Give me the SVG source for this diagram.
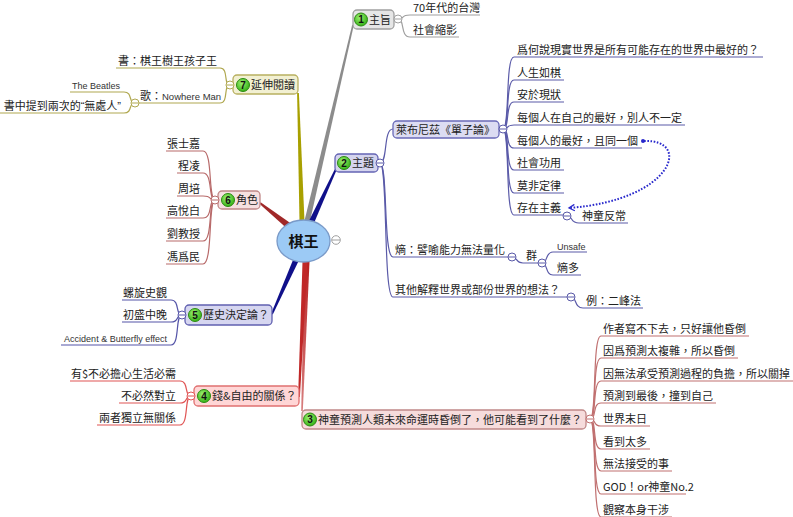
<svg xmlns="http://www.w3.org/2000/svg" width="793" height="517" viewBox="0 0 793 517">
<style>
.t{font-family:"Noto Sans CJK TC","Noto Sans CJK SC","Liberation Sans",sans-serif;font-size:11px;fill:#222}
.e{text-anchor:end}
.s{font-family:"Liberation Sans",sans-serif;font-size:9px;fill:#333}
.q{font-family:"Liberation Sans",sans-serif}
.num{font-family:"Liberation Sans",sans-serif;font-weight:bold;font-size:10px;text-anchor:middle;fill:#111}
.ic{fill:url(#g);stroke:#2d8a12;stroke-width:1}
.c{fill:none;stroke-width:1.2}
.gy{stroke:#a0a0a0}.bl{stroke:#5a5aa8}.r3{stroke:#c07070}.r4{stroke:#e05555}.b5{stroke:#5555a8}.r6{stroke:#b86a6a}.ol{stroke:#b0a850}
.col{fill:#fff;stroke-width:1}
.box{stroke-width:1.3}
</style>
<defs>
<radialGradient id="g" cx="0.4" cy="0.35" r="0.7"><stop offset="0" stop-color="#9cf070"/><stop offset="1" stop-color="#2fae12"/></radialGradient>
<linearGradient id="rg" x1="0" y1="0" x2="0" y2="1"><stop offset="0" stop-color="#b82020"/><stop offset="1" stop-color="#d88080"/></linearGradient>
<marker id="arr" viewBox="0 0 10 10" refX="8" refY="5" markerWidth="8" markerHeight="8" orient="auto" markerUnits="userSpaceOnUse"><path d="M1 1 L8 5 L1 9" fill="none" stroke="#2828cc" stroke-width="1.6"/></marker>
</defs>
<rect width="793" height="517" fill="#fff"/>
<g id="connectors">
<polygon points="309.7,222.6 353.8,25.2 352.2,24.8 304.3,221.4" fill="#8c8c8c"/>
<polygon points="304.5,221 298.9,93 297.1,93 299.5,221" fill="#a8a000"/>
<polygon points="313.5,224.2 336.8,169.4 335.2,168.6 308.5,221.8" fill="#10108a"/>
<polygon points="291,223.5 260.6,202.2 259.4,203.8 287,228.5" fill="#a02828"/>
<polygon points="298.6,261.1 272.8,314.4 271.2,313.6 293.4,258.9" fill="#10108a"/>
<polygon points="309.5,262 302.8,411 301.2,411 304.5,262" fill="url(#rg)"/>
<polygon points="307.5,262.1 299.9,397 298.1,397 302.5,261.9" fill="#c02828"/>
<path class="c gy" d="M398 19 C405 19,400 15,410 15 L480 15"/>
<path class="c gy" d="M398 19 C405 19,400 37,410 37 L459 37"/>
<path class="c bl" d="M380 163 C388 163,383 129,393 129"/>
<path class="c bl" d="M380 163 C388 163,383 257,393 257 L512 257"/>
<path class="c bl" d="M380 163 C388 163,383 297,393 297 L571 297"/>
<path class="c bl" d="M503 129 C510 129,505 57,514 57 L763 57"/>
<path class="c bl" d="M503 129 C510 129,505 80,514 80 L564 80"/>
<path class="c bl" d="M503 129 C510 129,505 102,514 102 L564 102"/>
<path class="c bl" d="M503 129 C510 129,505 125,514 125 L685 125"/>
<path class="c bl" d="M503 129 C510 129,505 148,514 148 L642 148"/>
<path class="c bl" d="M503 129 C510 129,505 170,514 170 L564 170"/>
<path class="c bl" d="M503 129 C510 129,505 193,514 193 L564 193"/>
<path class="c bl" d="M503 129 C510 129,505 215,514 215 L567 215"/>
<path class="c bl" d="M567 216 C573 216,570 223,579 223 L628 223"/>
<path class="c bl" d="M512 257 C518 257,515 263,523 263 L542 263"/>
<path class="c bl" d="M542 263 C548 263,545 252,553 252 L587 252"/>
<path class="c bl" d="M542 263 C548 263,545 275,553 275 L581 275"/>
<path class="c bl" d="M571 297 C577 297,574 308,583 308 L643 308"/>
<path d="M644 141 C692 139,674 200,569 208" fill="none" stroke="#2828cc" stroke-width="2" stroke-dasharray="1.6 1.6" marker-end="url(#arr)"/>
<circle cx="643" cy="141" r="2" fill="#2828cc"/>
<path class="c r3" d="M590 419 C597 419,592 336,601 336 L749 336"/>
<path class="c r3" d="M590 419 C597 419,592 358,601 358 L738 358"/>
<path class="c r3" d="M590 419 C597 419,592 381,601 381 L793 381"/>
<path class="c r3" d="M590 419 C597 419,592 403,601 403 L716 403"/>
<path class="c r3" d="M590 419 C597 419,592 426,601 426 L650 426"/>
<path class="c r3" d="M590 419 C597 419,592 449,601 449 L650 449"/>
<path class="c r3" d="M590 419 C597 419,592 471,601 471 L672 471"/>
<path class="c r3" d="M590 419 C597 419,592 494,601 494 L686 494"/>
<path class="c r3" d="M590 419 C597 419,592 517,601 517 L672 517"/>
<path class="c r4" d="M191 396 C184 396,189 381,180 381 L70 381"/>
<path class="c r4" d="M191 396 C184 396,189 403,180 403 L119 403"/>
<path class="c r4" d="M191 396 C184 396,189 425,180 425 L97 425"/>
<path class="c b5" d="M182 315 C175 315,180 300,171 300 L122 300"/>
<path class="c b5" d="M182 315 C175 315,180 322,171 322 L122 322"/>
<path class="c b5" d="M182 315 C175 315,180 345,171 345 L61 345"/>
<path class="c r6" d="M215 200 C208 200,213 151,203 151 L166 151"/>
<path class="c r6" d="M215 200 C208 200,213 173,203 173 L177 173"/>
<path class="c r6" d="M215 200 C208 200,213 196,203 196 L177 196"/>
<path class="c r6" d="M215 200 C208 200,213 218,203 218 L166 218"/>
<path class="c r6" d="M215 200 C208 200,213 241,203 241 L166 241"/>
<path class="c r6" d="M215 200 C208 200,213 264,203 264 L166 264"/>
<path class="c ol" d="M230 85 C223 85,229 68,220 68 L116 68"/>
<path class="c ol" d="M230 85 C223 85,229 103,220 103 L139 103"/>
<path class="c ol" d="M135 103 C128 103,133 92,124 92 L70 92"/>
<path class="c ol" d="M135 103 C128 103,133 113,124 113 L0 113"/>
</g>

<g id="center">
<ellipse cx="303.5" cy="241" rx="26.5" ry="21" fill="#9ccaf5" stroke="#7a9ac8" stroke-width="1.3"/>
<text x="303.5" y="246.5" text-anchor="middle" style="font-family:'Noto Sans CJK TC',sans-serif;font-size:15px;font-weight:bold;fill:#111">棋王</text>
<circle class="col" cx="336" cy="240" r="4.3" stroke="#a0a0a0"/><path d="M332 240h8" stroke="#a0a0a0"/>
</g>

<g id="n1">
<rect class="box" x="353" y="10" width="41" height="19" rx="4" fill="#e6e6e6" stroke="#a0a0a0"/>
<circle class="ic" cx="361" cy="19.5" r="6.5"/><text class="num" x="361" y="23">1</text>
<text class="t" x="369" y="23.5">主旨</text>
<circle class="col" cx="398" cy="19" r="4" stroke="#a0a0a0"/><path d="M394.5 19h7" stroke="#a0a0a0"/>
</g>
<g id="n1a"><text class="t" x="413" y="12">70年代的台灣</text></g>
<g id="n1b"><text class="t" x="413" y="34">社會縮影</text></g>

<g id="n2">
<rect class="box" x="335" y="154" width="43" height="18" rx="4" fill="#d4d4ee" stroke="#6464b4"/>
<circle class="ic" cx="344" cy="163" r="6.5"/><text class="num" x="344" y="166.5">2</text>
<text class="t" x="352" y="167">主題</text>
<circle class="col" cx="380" cy="163" r="4" stroke="#5a5aa8"/><path d="M376.5 163h7" stroke="#5a5aa8"/>
</g>
<g id="n2a">
<rect class="box" x="393" y="121" width="106" height="17" rx="4" fill="#dcdcf2" stroke="#6a6ab8"/>
<text class="t" x="396" y="133.5">萊布尼茲《單子論》</text>
<circle class="col" cx="503" cy="129" r="4" stroke="#5a5aa8"/><path d="M499.5 129h7" stroke="#5a5aa8"/>
</g>
<g id="n2a1"><text class="t" x="517" y="54">爲何說現實世界是所有可能存在的世界中最好的？</text></g>
<g id="n2a2"><text class="t" x="517" y="77">人生如棋</text></g>
<g id="n2a3"><text class="t" x="517" y="99">安於現狀</text></g>
<g id="n2a4"><text class="t" x="517" y="122">每個人在自己的最好，別人不一定</text></g>
<g id="n2a5"><text class="t" x="517" y="145">每個人的最好，且同一個</text></g>
<g id="n2a6"><text class="t" x="517" y="167">社會功用</text></g>
<g id="n2a7"><text class="t" x="517" y="190">莫非定律</text></g>
<g id="n2a8"><text class="t" x="517" y="212">存在主義</text>
<circle class="col" cx="567" cy="216" r="4" stroke="#5a5aa8"/><path d="M563.5 216h7" stroke="#5a5aa8"/></g>
<g id="n2a8a"><text class="t" x="582" y="220">神童反常</text></g>
<g id="n2b"><text class="t" x="395" y="254">熵：譬喻能力無法量化</text>
<circle class="col" cx="512" cy="257" r="4" stroke="#5a5aa8"/><path d="M508.5 257h7" stroke="#5a5aa8"/></g>
<g id="n2b1"><text class="t" x="526" y="260">群</text>
<circle class="col" cx="542" cy="263" r="4" stroke="#5a5aa8"/><path d="M538.5 263h7" stroke="#5a5aa8"/></g>
<g id="n2b1a"><text class="s" x="557" y="249.5">Unsafe</text></g>
<g id="n2b1b"><text class="t" x="557" y="272">熵多</text></g>
<g id="n2c"><text class="t" x="395" y="294">其他解釋世界或部份世界的想法？</text>
<circle class="col" cx="571" cy="297" r="4" stroke="#5a5aa8"/><path d="M567.5 297h7" stroke="#5a5aa8"/></g>
<g id="n2c1"><text class="t" x="586" y="305">例：二峰法</text></g>

<g id="n3">
<rect class="box" x="302" y="410" width="284" height="19" rx="4" fill="#f6dcdc" stroke="#c08888"/>
<circle class="ic" cx="310" cy="419.5" r="6.5"/><text class="num" x="310" y="423">3</text>
<text class="t" x="318" y="423.5">神童預測人類未來命運時昏倒了，他可能看到了什麼？</text>
<circle class="col" cx="590" cy="419" r="4" stroke="#c07070"/><path d="M586.5 419h7" stroke="#c07070"/>
</g>
<g id="n3a"><text class="t" x="603" y="333">作者寫不下去，只好讓他昏倒</text></g>
<g id="n3b"><text class="t" x="603" y="355">因爲預測太複雜，所以昏倒</text></g>
<g id="n3c"><text class="t" x="603" y="378">因無法承受預測過程的負擔，所以關掉</text></g>
<g id="n3d"><text class="t" x="603" y="400">預測到最後，撞到自己</text></g>
<g id="n3e"><text class="t" x="603" y="423">世界末日</text></g>
<g id="n3f"><text class="t" x="603" y="446">看到太多</text></g>
<g id="n3g"><text class="t" x="603" y="468">無法接受的事</text></g>
<g id="n3h"><text class="t" x="603" y="491">GOD！or神童No.2</text></g>
<g id="n3i"><text class="t" x="603" y="514">觀察本身干涉</text></g>

<g id="n4">
<rect class="box" x="194" y="386" width="105" height="20" rx="4" fill="#ffd6d6" stroke="#e07070"/>
<circle class="ic" cx="204" cy="396" r="6.5"/><text class="num" x="204" y="399.5">4</text>
<text class="t" x="212" y="400">錢&amp;自由的關係？</text>
<circle class="col" cx="191" cy="396" r="4" stroke="#e05555"/><path d="M187.5 396h7" stroke="#e05555"/>
</g>
<g id="n4a"><text class="t e" x="176" y="378">有$不必擔心生活必需</text></g>
<g id="n4b"><text class="t e" x="176" y="400">不必然對立</text></g>
<g id="n4c"><text class="t e" x="176" y="422">兩者獨立無關係</text></g>

<g id="n5">
<rect class="box" x="185" y="305" width="87" height="20" rx="4" fill="#d6d6f0" stroke="#6060b0"/>
<circle class="ic" cx="195" cy="315" r="6.5"/><text class="num" x="195" y="318.5">5</text>
<text class="t" x="203" y="319">歷史決定論？</text>
<circle class="col" cx="182" cy="315" r="4" stroke="#5555a8"/><path d="M178.5 315h7" stroke="#5555a8"/>
</g>
<g id="n5a"><text class="t e" x="167" y="297">螺旋史觀</text></g>
<g id="n5b"><text class="t e" x="167" y="319">初盛中晚</text></g>
<g id="n5c"><text class="s e" x="167" y="342">Accident &amp; Butterfly effect</text></g>

<g id="n6">
<rect class="box" x="218" y="191" width="42" height="18" rx="4" fill="#f6e0e0" stroke="#c08888"/>
<circle class="ic" cx="228" cy="200" r="6.5"/><text class="num" x="228" y="203.5">6</text>
<text class="t" x="236" y="204">角色</text>
<circle class="col" cx="215" cy="200" r="4" stroke="#b86a6a"/><path d="M211.5 200h7" stroke="#b86a6a"/>
</g>
<g id="n6a"><text class="t e" x="200" y="148">張士嘉</text></g>
<g id="n6b"><text class="t e" x="200" y="170">程凌</text></g>
<g id="n6c"><text class="t e" x="200" y="193">周培</text></g>
<g id="n6d"><text class="t e" x="200" y="215">高悅白</text></g>
<g id="n6e"><text class="t e" x="200" y="238">劉教授</text></g>
<g id="n6f"><text class="t e" x="200" y="261">馮爲民</text></g>

<g id="n7">
<rect class="box" x="233" y="75" width="65" height="19" rx="4" fill="#f2f0d2" stroke="#b8b060"/>
<circle class="ic" cx="243" cy="85" r="6.5"/><text class="num" x="243" y="88.5">7</text>
<text class="t" x="251" y="89">延伸閱讀</text>
<circle class="col" cx="230" cy="85" r="4" stroke="#b0a850"/><path d="M226.5 85h7" stroke="#b0a850"/>
</g>
<g id="n7a"><text class="t e" x="217" y="65">書：棋王樹王孩子王</text></g>
<g id="n7b"><text class="t" x="140" y="100">歌：<tspan class="s" style="font-size:9.5px">Nowhere Man</tspan></text>
<circle class="col" cx="135" cy="103" r="4" stroke="#b0a850"/><path d="M131.5 103h7" stroke="#b0a850"/></g>
<g id="n7b1"><text class="s e" x="120" y="89">The Beatles</text></g>
<g id="n7b2"><text class="t e" x="121" y="110">書中提到兩次的<tspan class="q">“</tspan>無處人<tspan class="q">”</tspan></text></g>
</svg>
